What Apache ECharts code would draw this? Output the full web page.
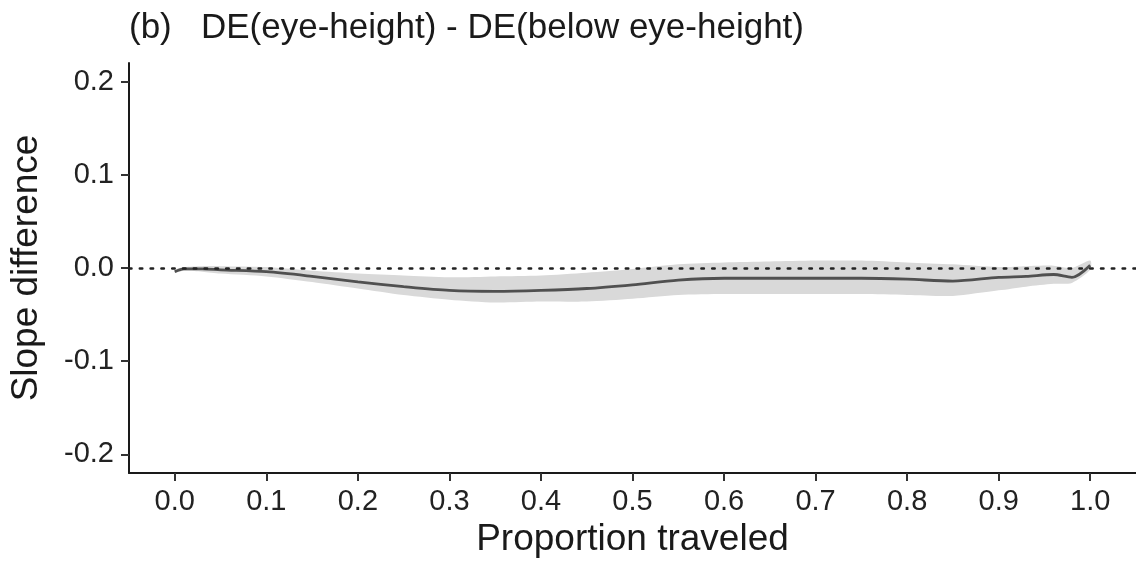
<!DOCTYPE html>
<html>
<head>
<meta charset="utf-8">
<script src="https://cdn.jsdelivr.net/npm/echarts@6/dist/echarts.min.js"></script>
<style>
  html, body { margin: 0; padding: 0; background: #fff; }
  #chart { width: 1136px; height: 563px; }
</style>
</head>
<body>
<div id="chart"></div>
<script>
// ---- data ----
const titleText = '(b)   DE(eye-height) - DE(below eye-height)';
const xName = 'Proportion traveled';
const yName = 'Slope difference';
const proportion = [0, 0.01, 0.03, 0.05, 0.1, 0.15, 0.2, 0.25, 0.3, 0.35, 0.4, 0.45, 0.5, 0.55, 0.6, 0.65, 0.7, 0.75, 0.8, 0.85, 0.9, 0.93, 0.96, 0.98, 1.0];
const meanDiff  = [-0.004, -0.001, -0.001, -0.002, -0.004, -0.009, -0.015, -0.020, -0.024, -0.025, -0.024, -0.022, -0.018, -0.013, -0.011, -0.011, -0.011, -0.011, -0.012, -0.014, -0.010, -0.009, -0.007, -0.010, 0.003];
const lowerCI   = [-0.005, -0.003, -0.004, -0.006, -0.009, -0.015, -0.022, -0.029, -0.034, -0.037, -0.036, -0.036, -0.033, -0.029, -0.028, -0.028, -0.028, -0.028, -0.029, -0.030, -0.024, -0.020, -0.017, -0.016, -0.002];
const upperCI   = [-0.002, 0.001, 0.002, 0.002, 0.001, -0.003, -0.006, -0.008, -0.010, -0.009, -0.008, -0.005, -0.001, 0.004, 0.006, 0.007, 0.008, 0.008, 0.006, 0.004, 0.001, 0.002, 0.0025, 0.000, 0.008];
const xTicks = [0, 0.1, 0.2, 0.3, 0.4, 0.5, 0.6, 0.7, 0.8, 0.9, 1.0];
const yTicks = [-0.2, -0.1, 0.0, 0.1, 0.2];

const FONT = '"Liberation Sans", Arial, sans-serif';
const bandData = proportion.map((x, i) => [x, lowerCI[i], upperCI[i]]);
const meanPts = proportion.map((x, i) => [x, meanDiff[i]]);

const chart = echarts.init(document.getElementById('chart'), null, { renderer: 'canvas' });
chart.setOption({
  animation: false,
  backgroundColor: '#ffffff',
  title: {
    text: titleText,
    left: 124,
    top: 6,
    textStyle: { fontFamily: FONT, fontSize: 35, fontWeight: 'normal', color: '#1a1a1a' }
  },
  grid: { left: 129, right: 0, top: 63, bottom: 90, containLabel: false },
  xAxis: {
    type: 'value',
    min: -0.05,
    max: 1.05,
    name: xName,
    nameLocation: 'middle',
    nameGap: 46,
    nameTextStyle: { fontFamily: FONT, fontSize: 37, color: '#1a1a1a' },
    axisLine: { show: true, onZero: false, lineStyle: { color: '#1a1a1a', width: 2 } },
    axisTick: { show: true, length: 8, lineStyle: { color: '#333', width: 2 }, customValues: xTicks },
    axisLabel: {
      fontFamily: FONT, fontSize: 29, color: '#222', margin: 14,
      customValues: xTicks,
      formatter: v => v.toFixed(1)
    },
    splitLine: { show: false }
  },
  yAxis: {
    type: 'value',
    min: -0.22,
    max: 0.22,
    name: yName,
    nameLocation: 'middle',
    nameGap: 84,
    nameRotate: 90,
    nameTextStyle: { fontFamily: FONT, fontSize: 37, color: '#1a1a1a' },
    axisLine: { show: true, onZero: false, lineStyle: { color: '#1a1a1a', width: 2 } },
    axisTick: { show: true, length: 8, lineStyle: { color: '#333', width: 2 }, customValues: yTicks },
    axisLabel: {
      fontFamily: FONT, fontSize: 29, color: '#222', margin: 15,
      customValues: yTicks,
      formatter: v => v.toFixed(1)
    },
    splitLine: { show: false }
  },
  series: [
    {
      name: 'ci',
      type: 'custom',
      data: bandData,
      encode: { x: 0, y: [1, 2] },
      silent: true,
      z: 1,
      renderItem: function (params, api) {
        if (params.dataIndex !== 0) return null;
        const pts = [];
        for (let i = 0; i < bandData.length; i++) {
          pts.push(api.coord([bandData[i][0], bandData[i][2]]));
        }
        for (let i = bandData.length - 1; i >= 0; i--) {
          pts.push(api.coord([bandData[i][0], bandData[i][1]]));
        }
        return {
          type: 'polygon',
          shape: { points: pts, smooth: 0.25 },
          style: { fill: '#d9d9d9', stroke: null }
        };
      }
    },
    {
      name: 'mean',
      type: 'line',
      data: meanPts,
      symbol: 'none',
      smooth: 0.3,
      lineStyle: { color: '#505050', width: 2.8 },
      silent: true,
      z: 3,
      markLine: {
        silent: true,
        symbol: 'none',
        label: { show: false },
        lineStyle: { color: '#222', width: 2.5, type: [2.5, 8.3], cap: 'round' },
        data: [{ yAxis: 0 }],
        z: 4
      }
    }
  ]
});
</script>
</body>
</html>
